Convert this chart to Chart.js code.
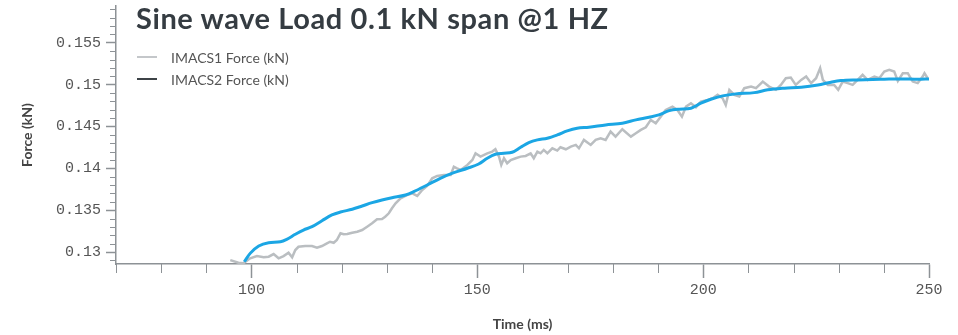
<!DOCTYPE html>
<html>
<head>
<meta charset="utf-8">
<script src="https://cdn.jsdelivr.net/npm/chart.js@4.4.0/dist/chart.umd.min.js"></script>
<style>
  html, body { margin: 0; padding: 0; background: #fff; }
  #wrap { position: relative; width: 958px; height: 335px; }
  #titulo { position: absolute; left: 136px; top: 0px; font: bold 29px Lato, sans-serif; letter-spacing: 0.6px; color: #353c42; white-space: nowrap; }
  #leyenda { position: absolute; left: 137px; top: 46px; font: 14px Lato, sans-serif; color: #555; }
  .item { display: flex; align-items: center; height: 22px; }
  .muestra { width: 20px; height: 2px; margin-right: 14px; }
</style>
</head>
<body>
<div id="wrap">
  <canvas id="grafico"></canvas>
  <div id="titulo">Sine wave Load 0.1 kN span @1 HZ</div>
  <div id="leyenda"></div>
</div>
<script>
// IMACS1 (gris, con ruido)
const imacs1Tiempo = [95.3, 97.1, 98.2, 99.7, 101.2, 102.7, 103.8, 104.9, 106.0, 107.1, 108.2, 109.0, 109.7, 110.4, 111.9, 113.4, 114.5, 115.6, 116.7, 117.4, 118.2, 118.9, 119.7, 120.4, 121.2, 122.3, 123.4, 124.5, 125.6, 126.7, 127.8, 128.9, 129.6, 130.4, 131.1, 131.9,
  133.0, 134.5, 135.6, 136.7, 137.8, 138.9, 140.0, 141.1, 142.6, 144.1, 144.8, 145.5, 146.3, 147.8, 148.9, 149.6, 150.7, 152.2, 153.3, 154.0, 154.8, 155.3, 155.9, 156.6, 157.4, 158.5, 159.6, 160.7, 161.8, 162.5, 163.3, 164.0, 164.7, 165.5, 166.6, 167.7, 168.4, 169.6, 170.7,
  171.8, 172.5, 173.6, 175.1, 176.2, 177.3, 178.4, 179.5, 180.6, 182.1, 184.0, 185.1, 186.2, 187.3, 188.4, 189.5, 190.6, 191.7, 193.2, 194.3, 195.3, 196.2, 197.3, 198.4, 199.5, 201.0, 202.1, 203.2, 204.3, 205.0, 205.8, 206.9, 208.0, 209.1,
  210.6, 211.7, 213.2, 214.6, 216.1, 217.2, 218.3, 219.4, 220.5, 221.7, 222.8, 223.9, 225.0, 225.9, 226.5, 227.6, 229.0, 229.9, 230.9, 232.0, 233.1, 234.2, 235.3, 236.4, 237.9, 239.0, 240.1, 241.2, 242.3, 243.1, 244.2, 245.3, 246.4, 247.5, 248.6, 249.0, 249.7];
const imacs1Fuerza = [0.12904, 0.12872, 0.12865, 0.12925, 0.12952, 0.12937, 0.12944, 0.12976, 0.12925, 0.12952, 0.12992, 0.12937, 0.13024, 0.13063, 0.13072, 0.13072, 0.13051, 0.13072, 0.13104, 0.13123, 0.13111, 0.13144, 0.13224, 0.13212, 0.13215, 0.13231, 0.13243, 0.13263, 0.13303, 0.13343, 0.13391, 0.13395, 0.13422, 0.13463, 0.13523, 0.13582,
  0.13642, 0.13682, 0.13702, 0.13670, 0.13742, 0.13789, 0.13881, 0.13909, 0.13921, 0.13921, 0.14020, 0.14001, 0.13981, 0.14041, 0.14100, 0.14180, 0.14140, 0.14180, 0.14200, 0.14228, 0.14140, 0.14041, 0.14121, 0.14061, 0.14100, 0.14121, 0.14140, 0.14148, 0.14180, 0.14121, 0.14200, 0.14180, 0.14220, 0.14180, 0.14240, 0.14212, 0.14252, 0.14228, 0.14259,
  0.14280, 0.14240, 0.14340, 0.14280, 0.14340, 0.14360, 0.14340, 0.14439, 0.14379, 0.14467, 0.14379, 0.14419, 0.14459, 0.14491, 0.14579, 0.14539, 0.14618, 0.14698, 0.14738, 0.14698, 0.14618, 0.14738, 0.14778, 0.14731, 0.14798, 0.14818, 0.14838, 0.14878, 0.14838, 0.14758, 0.14938, 0.14878, 0.14858, 0.14958,
  0.14977, 0.14958, 0.15037, 0.14977, 0.14938, 0.14997, 0.15077, 0.15085, 0.14997, 0.15057, 0.15097, 0.15018, 0.15077, 0.15197, 0.15057, 0.14997, 0.14997, 0.14938, 0.15037, 0.15018, 0.14997, 0.15057, 0.15117, 0.15057, 0.15097, 0.15077, 0.15156, 0.15177, 0.15156, 0.15045, 0.15137, 0.15137, 0.15037, 0.15018, 0.15097, 0.15137, 0.15077];

// IMACS2 (azul, suave)
const imacs2Tiempo = [98.4, 99.7, 101.6, 103.8, 106.4, 107.8, 109.7, 111.5, 113.4, 115.6, 117.8, 119.7, 122.3, 124.5, 126.7, 128.9, 131.1, 134.1, 135.9, 138.9, 141.8, 144.8, 147.8, 150.3, 152.2, 154.0, 155.9, 157.7, 159.6, 161.4, 163.3, 165.5, 167.7, 169.9, 172.1, 174.7, 178.4, 182.1, 185.1, 188.0, 190.2, 192.5, 194.7, 197.3, 199.5, 201.7, 204.3, 207.2, 211.3, 214.3, 218.0, 221.7, 225.4, 228.3, 230.5, 234.2, 240.1, 243.8, 247.5, 250.0];
const imacs2Fuerza = [0.12884, 0.12984, 0.13072, 0.13111, 0.13123, 0.13152, 0.13212, 0.13263, 0.13303, 0.13374, 0.13443, 0.13478, 0.13511, 0.13550, 0.13590, 0.13622, 0.13649, 0.13682, 0.13721, 0.13801, 0.13881, 0.13948, 0.14001, 0.14052, 0.14121, 0.14168, 0.14180, 0.14192, 0.14252, 0.14307, 0.14340, 0.14360, 0.14399, 0.14447, 0.14479, 0.14491, 0.14519, 0.14539, 0.14579, 0.14611, 0.14639, 0.14690, 0.14707, 0.14719, 0.14778, 0.14826, 0.14866, 0.14890, 0.14905, 0.14938, 0.14958, 0.14970, 0.14997, 0.15030, 0.15049, 0.15057, 0.15065, 0.15069, 0.15065, 0.15069];

const etiquetas = ['IMACS1 Force (kN)', 'IMACS2 Force (kN)'];
const coloresLinea = ['#babec1', '#1ba6e4'];
const coloresLeyenda = ['#c4c7ca', '#3d4347'];

const rangoX = [70, 250];
const rangoY = [0.12857, 0.1594];
const pasoX = 50, pasoMenorX = 10;
const pasoY = 0.005, pasoMenorY = 0.001;

const gris = '#8d9296';
const fuenteMono = 'Liberation Mono';
const fuenteTexto = 'Lato';

const puntos = (ts, fs) => ts.map((t, i) => ({ x: t, y: fs[i] }));

// marcas menores de los ejes, calculadas con las escalas
const marcasMenores = {
  id: 'marcasMenores',
  afterDraw(chart) {
    const { ctx, scales: { x, y } } = chart;
    ctx.save();
    ctx.strokeStyle = gris;
    ctx.lineWidth = 1;
    ctx.beginPath();
    for (let v = rangoX[0]; v <= rangoX[1] + 1e-9; v += pasoMenorX) {
      if (Math.abs(v / pasoX - Math.round(v / pasoX)) < 1e-6) continue;
      const px = Math.round(x.getPixelForValue(v)) + 0.5;
      ctx.moveTo(px, x.top);
      ctx.lineTo(px, x.top + 9);
    }
    const k0 = Math.ceil(rangoY[0] / pasoMenorY), k1 = Math.floor(rangoY[1] / pasoMenorY);
    for (let k = k0; k <= k1; k++) {
      const v = k * pasoMenorY;
      if (Math.abs(v / pasoY - Math.round(v / pasoY)) < 1e-6) continue;
      const py = Math.round(y.getPixelForValue(v)) + 0.5;
      ctx.moveTo(y.right - 6, py);
      ctx.lineTo(y.right, py);
    }
    ctx.stroke();
    ctx.restore();
  }
};

const ctx = document.getElementById('grafico');
const chart = new Chart(ctx, {
  type: 'line',
  data: {
    datasets: [
      {
        label: etiquetas[0],
        data: puntos(imacs1Tiempo, imacs1Fuerza),
        borderColor: coloresLinea[0],
        borderWidth: 2.5,
        pointRadius: 0,
        tension: 0,
        order: 1
      },
      {
        label: etiquetas[1],
        data: puntos(imacs2Tiempo, imacs2Fuerza),
        borderColor: coloresLinea[1],
        borderWidth: 3,
        pointRadius: 0,
        cubicInterpolationMode: 'monotone',
        order: 0
      }
    ]
  },
  options: {
    responsive: true,
    maintainAspectRatio: false,
    animation: false,
    layout: { padding: { left: 0, right: 29, top: 6, bottom: 0 } },
    plugins: {
      legend: { display: false },
      tooltip: { enabled: false }
    },
    scales: {
      x: {
        type: 'linear',
        min: rangoX[0],
        max: rangoX[1],
        ticks: {
          stepSize: pasoX,
          includeBounds: false,
          maxRotation: 0,
          padding: 3,
          color: '#555',
          font: { family: fuenteMono, size: 15 }
        },
        grid: { drawOnChartArea: false, tickLength: 14, tickColor: gris, tickWidth: 1.5 },
        border: { color: gris, width: 1.5 },
        title: {
          display: true,
          text: 'Time (ms)',
          color: '#444',
          font: { family: fuenteTexto, size: 14, weight: 'bold' },
          padding: { top: 0, bottom: 2 }
        },
        afterFit(scale) {
          scale.height = 71;
          scale.paddingLeft = 0;
          scale.paddingRight = 0;
        }
      },
      y: {
        min: rangoY[0],
        max: rangoY[1],
        ticks: {
          stepSize: pasoY,
          includeBounds: false,
          padding: 5,
          color: '#555',
          font: { family: fuenteMono, size: 15 },
          callback: v => String(+v.toFixed(3))
        },
        grid: { drawOnChartArea: false, tickLength: 10, tickColor: gris, tickWidth: 1.5 },
        border: { color: gris, width: 1.5 },
        title: {
          display: true,
          text: 'Force (kN)',
          color: '#444',
          font: { family: fuenteTexto, size: 14, weight: 'bold' },
          padding: { top: 19, bottom: 0 }
        },
        afterFit(scale) {
          scale.width = 116;
          scale.paddingTop = 0;
          scale.paddingBottom = 0;
        }
      }
    }
  },
  plugins: [marcasMenores]
});

// leyenda en HTML, a partir de los datasets
document.getElementById('leyenda').innerHTML = chart.data.datasets.map((d, i) => `
  <div class="item"><span class="muestra" style="background:${coloresLeyenda[i]}"></span>${d.label}</div>
`).join('');
</script>
</body>
</html>
